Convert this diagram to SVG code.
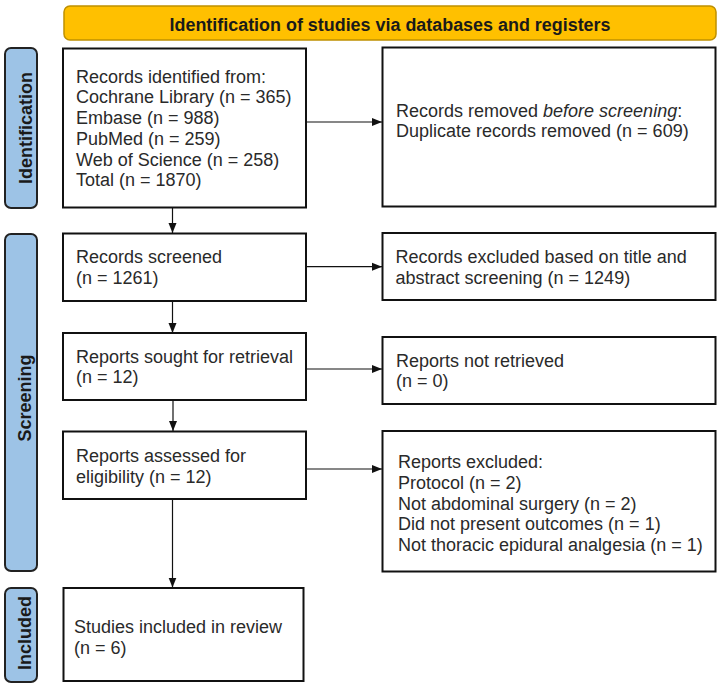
<svg xmlns="http://www.w3.org/2000/svg" width="722" height="688" viewBox="0 0 722 688">
<defs>
<marker id="arr" viewBox="0 0 10 10" refX="10" refY="5" markerWidth="10" markerHeight="10" markerUnits="userSpaceOnUse" orient="auto">
<path d="M0,1 L10,5 L0,9 z" fill="#111"/>
</marker>
<style>
.box{fill:#fff;stroke:#111;stroke-width:2}
.side{fill:#9DC3E6;stroke:#222;stroke-width:2}
.t{font-family:"Liberation Sans",Arial,sans-serif;font-size:18px;fill:#2a2a2a}
.st{font-family:"Liberation Sans",Arial,sans-serif;font-size:18px;font-weight:bold;fill:#1a1a1a;text-anchor:middle}
.c{stroke:#111;stroke-width:1.2;fill:none;marker-end:url(#arr)}
</style>
</defs>
<rect width="722" height="688" fill="#fff"/>

<g id="banner">
<rect x="64" y="6" width="652" height="34" rx="6" fill="#FFC000" stroke="#BF9000" stroke-width="1.5"/>
<text x="390" y="30.5" class="st" font-size="17.5" textLength="441" lengthAdjust="spacingAndGlyphs">Identification of studies via databases and registers</text>
</g>

<g id="label-identification">
<rect x="5" y="48" width="32" height="160" rx="6" class="side"/>
<text class="st" transform="translate(32,128) rotate(-90)">Identification</text>
</g>
<g id="label-screening">
<rect x="5" y="234" width="32" height="337" rx="6" class="side"/>
<text class="st" transform="translate(31,398) rotate(-90)">Screening</text>
</g>
<g id="label-included">
<rect x="5" y="588" width="32" height="94" rx="6" class="side"/>
<text class="st" transform="translate(31,633) rotate(-90)">Included</text>
</g>

<g id="records-identified">
<rect x="63" y="48.5" width="243" height="159" class="box"/>
<text class="t" x="76" y="82.7">Records identified from:</text>
<text class="t" x="76" y="103.4">Cochrane Library (n = 365)</text>
<text class="t" x="76" y="124.1">Embase (n = 988)</text>
<text class="t" x="76" y="144.8">PubMed (n = 259)</text>
<text class="t" x="76" y="165.5">Web of Science (n = 258)</text>
<text class="t" x="76" y="186.2">Total (n = 1870)</text>
</g>

<g id="records-removed">
<rect x="382.5" y="47.5" width="333" height="159" class="box"/>
<text class="t" x="396" y="117.3">Records removed <tspan font-style="italic">before screening</tspan>:</text>
<text class="t" x="396" y="137">Duplicate records removed (n = 609)</text>
</g>

<g id="records-screened">
<rect x="63" y="233.5" width="243" height="67.5" class="box"/>
<text class="t" x="76" y="263.3">Records screened</text>
<text class="t" x="76" y="284">(n = 1261)</text>
</g>

<g id="records-excluded">
<rect x="382.5" y="233" width="333" height="67" class="box"/>
<text class="t" x="395.5" y="263.3">Records excluded based on title and</text>
<text class="t" x="395.5" y="284">abstract screening (n = 1249)</text>
</g>

<g id="reports-sought">
<rect x="63" y="333" width="243" height="67" class="box"/>
<text class="t" x="76" y="362.7">Reports sought for retrieval</text>
<text class="t" x="76" y="383.4">(n = 12)</text>
</g>

<g id="reports-not-retrieved">
<rect x="382.5" y="337" width="333" height="67" class="box"/>
<text class="t" x="396" y="366.7">Reports not retrieved</text>
<text class="t" x="396" y="387.4">(n = 0)</text>
</g>

<g id="reports-assessed">
<rect x="63" y="431.5" width="243" height="67.5" class="box"/>
<text class="t" x="76" y="461.7">Reports assessed for</text>
<text class="t" x="76" y="483.3">eligibility (n = 12)</text>
</g>

<g id="reports-excluded">
<rect x="382.5" y="431" width="333" height="140.5" class="box"/>
<text class="t" x="398" y="468.3">Reports excluded:</text>
<text class="t" x="398" y="489">Protocol (n = 2)</text>
<text class="t" x="398" y="509.7">Not abdominal surgery (n = 2)</text>
<text class="t" x="398" y="530.4">Did not present outcomes (n = 1)</text>
<text class="t" x="398" y="551.1">Not thoracic epidural analgesia (n = 1)</text>
</g>

<g id="studies-included">
<rect x="63.5" y="588" width="240" height="93" class="box"/>
<text class="t" x="74" y="632.7">Studies included in review</text>
<text class="t" x="74" y="654.3">(n = 6)</text>
</g>

<g id="connectors">
<line class="c" x1="307" y1="122" x2="382" y2="122"/>
<line class="c" x1="172.5" y1="208" x2="172.5" y2="233"/>
<line class="c" x1="307" y1="266.7" x2="382" y2="266.7"/>
<line class="c" x1="172.5" y1="301" x2="172.5" y2="333"/>
<line class="c" x1="307" y1="369" x2="382" y2="369"/>
<line class="c" x1="173" y1="400" x2="173" y2="431"/>
<line class="c" x1="307" y1="469" x2="382" y2="469"/>
<line class="c" x1="172.5" y1="499" x2="172.5" y2="587.5"/>
</g>
</svg>
